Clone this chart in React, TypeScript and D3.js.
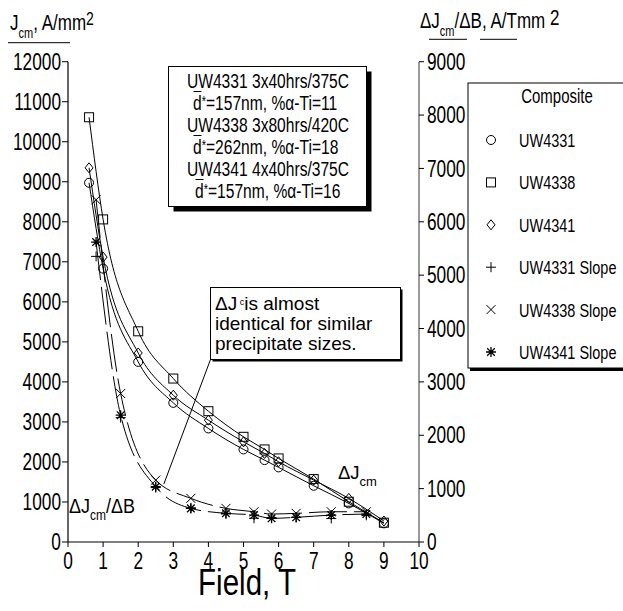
import React from "react";
import * as d3 from "d3";

// ---- data ----
const fieldComposite = [0.6, 1, 2, 3, 4, 5, 5.6, 6, 7, 8, 9];
const uw4331 = [8975, 6830, 4500, 3476, 2837, 2313, 2046, 1864, 1405, 965, 466];
const uw4338 = [10612, 8060, 5264, 4084, 3268, 2628, 2313, 2088, 1572, 1006, 482];
const uw4341 = [9349, 7118, 4723, 3668, 3044, 2503, 2213, 2004, 1547, 1090, 524];

const fieldSlope = [0.8, 1.5, 2.5, 3.5, 4.5, 5.3, 5.8, 6.5, 7.5, 8.5];
const uw4331Slope = [5352, 2330, 1020, 640, 525, 445, 455, 460, 440, 500];
const uw4338Slope = [6413, 2782, 1160, 818, 630, 567, 524, 537, 567, 567];
const uw4341Slope = [5620, 2376, 1035, 630, 537, 505, 443, 462, 505, 524];

const xTicks = [0, 1, 2, 3, 4, 5, 6, 7, 8, 9, 10];
const yLeftTicks = [0, 1000, 2000, 3000, 4000, 5000, 6000, 7000, 8000, 9000, 10000, 11000, 12000];
const yRightTicks = [0, 1000, 2000, 3000, 4000, 5000, 6000, 7000, 8000, 9000];

const legendLabels = ["UW4331", "UW4338", "UW4341", "UW4331 Slope", "UW4338 Slope", "UW4341 Slope"];
const legendMarkers = ["circle", "square", "diamond", "plus", "cross", "star"];

const infoTitles = ["UW4331 3x40hrs/375C", "UW4338 3x80hrs/420C", "UW4341 4x40hrs/375C"];
const infoDetails = ["=157nm, %\u03b1-Ti=11", "=262nm, %\u03b1-Ti=18", "=157nm, %\u03b1-Ti=16"];
const calloutLines = ["is almost", "identical for similar", "precipitate sizes."];
// callout anchor (field, slope value on right axis)
const calloutTarget = [2.73, 1085];

const FONT = "'Liberation Sans', Arial, Helvetica, sans-serif";
const SY = 1.33;

function Marker({ type, cx, cy }: { type: string; cx: number; cy: number }) {
  const s = { fill: "none", stroke: "#000", strokeWidth: 1 } as any;
  if (type === "circle") return <circle cx={cx} cy={cy} r={4.5} {...s} />;
  if (type === "square") return <rect x={cx - 4.5} y={cy - 4.5} width={9} height={9} {...s} />;
  if (type === "diamond")
    return <path d={`M${cx},${cy - 5}L${cx + 4},${cy}L${cx},${cy + 5}L${cx - 4},${cy}Z`} {...s} />;
  if (type === "plus")
    return <path d={`M${cx - 5},${cy}H${cx + 5}M${cx},${cy - 5}V${cy + 5}`} {...s} />;
  if (type === "cross")
    return (
      <path
        d={`M${cx - 4.5},${cy - 4.5}L${cx + 4.5},${cy + 4.5}M${cx + 4.5},${cy - 4.5}L${cx - 4.5},${cy + 4.5}`}
        {...s}
      />
    );
  return (
    <path
      d={`M${cx - 5},${cy}H${cx + 5}M${cx},${cy - 5}V${cy + 5}M${cx - 3.8},${cy - 3.8}L${cx + 3.8},${cy + 3.8}M${cx + 3.8},${cy - 3.8}L${cx - 3.8},${cy + 3.8}`}
      {...s}
      strokeWidth={1.3}
    />
  );
}

function ST({ x, y, size, sy = SY, anchor = "start", children }: any) {
  return (
    <text
      transform={`translate(${x},${y}) scale(1,${sy})`}
      fontSize={size}
      textAnchor={anchor}
      fontFamily={FONT}
      fill="#000"
    >
      {children}
    </text>
  );
}

export default function App() {
  const x = d3.scaleLinear().domain([0, 10]).range([68, 419]);
  const yL = d3.scaleLinear().domain([0, 12000]).range([542, 61.7]);
  const yR = d3.scaleLinear().domain([0, 9000]).range([542, 61.7]);

  const lineL = (vals: number[]) =>
    d3
      .line<number>()
      .x((_, i) => x(fieldComposite[i]))
      .y((d) => yL(d))
      .curve(d3.curveMonotoneX)(vals) as string;
  const lineR = (vals: number[]) =>
    d3
      .line<number>()
      .x((_, i) => x(fieldSlope[i]))
      .y((d) => yR(d))
      .curve(d3.curveMonotoneX)(vals) as string;

  const composite = [
    { vals: uw4331, m: "circle" },
    { vals: uw4338, m: "square" },
    { vals: uw4341, m: "diamond" },
  ];
  const slopes = [
    { vals: uw4331Slope, m: "plus" },
    { vals: uw4338Slope, m: "cross" },
    { vals: uw4341Slope, m: "star" },
  ];

  // layout
  const info = { x: 168.5, y: 66.5, w: 198, h: 140 };
  const legend = { x: 468, y: 83, w: 170, h: 285 };
  const call = { x: 210.5, y: 287.5, w: 190, h: 72 };
  const detailX = [193, 193, 195];

  return (
    <svg width={623} height={611} style={{ display: "block", position: "absolute", left: 0, top: 0 }}>
      <rect width={623} height={611} fill="#fff" />

      {/* composite curves */}
      {composite.map((c, i) => (
        <path key={"cl" + i} d={lineL(c.vals)} fill="none" stroke="#000" strokeWidth={1} />
      ))}
      {/* slope curves */}
      {[uw4338Slope, uw4341Slope].map((v, i) => (
        <path
          key={"sl" + i}
          d={lineR(v)}
          fill="none"
          stroke="#000"
          strokeWidth={1}
          strokeDasharray="38,7"
        />
      ))}

      {/* markers */}
      {composite.map((c, i) =>
        c.vals.map((v, j) => (
          <Marker key={`cm${i}-${j}`} type={c.m} cx={x(fieldComposite[j])} cy={yL(v)} />
        ))
      )}
      {slopes.map((c, i) =>
        c.vals.map((v, j) => <Marker key={`sm${i}-${j}`} type={c.m} cx={x(fieldSlope[j])} cy={yR(v)} />)
      )}

      {/* left axis */}
      <line x1={68} x2={68} y1={yL(0)} y2={yL(12000)} stroke="#000" strokeWidth={1.2} />
      {yLeftTicks.map((t) => (
        <g key={"yl" + t}>
          <line x1={62} x2={68} y1={yL(t)} y2={yL(t)} stroke="#000" />
          <ST x={61} y={yL(t) + 8.2} size={17.3} anchor="end">
            {t}
          </ST>
        </g>
      ))}
      {/* right axis */}
      <line x1={419} x2={419} y1={yR(0)} y2={yR(9000)} stroke="#808080" strokeWidth={1.6} />
      {yRightTicks.map((t) => (
        <g key={"yr" + t}>
          <line x1={419} x2={424} y1={yR(t)} y2={yR(t)} stroke="#000" />
          <ST x={427} y={yR(t) + 8.2} size={17.3}>
            {t}
          </ST>
        </g>
      ))}
      {/* x axis */}
      <line x1={x(0)} x2={x(10)} y1={542} y2={542} stroke="#000" strokeWidth={1.2} />
      {xTicks.map((t) => (
        <g key={"x" + t}>
          <line x1={x(t)} x2={x(t)} y1={542} y2={547} stroke="#000" />
          <ST x={x(t)} y={568.5} size={17.3} anchor="middle">
            {t}
          </ST>
        </g>
      ))}

      {/* axis titles */}
      <ST x={10} y={30} size={17}>
        J<tspan fontSize={11} dy={6}>cm</tspan>
        <tspan dy={-6}>, A/mm</tspan>
        <tspan fontSize={14} dy={-4}>2</tspan>
      </ST>
      <line x1={8} x2={70} y1={42.7} y2={42.7} stroke="#000" strokeWidth={1} />

      <ST x={420} y={28} size={17}>
        {"\u0394J"}
        <tspan fontSize={11} dy={6}>cm</tspan>
        <tspan dy={-6}>{"/\u0394B, A/Tmm "}</tspan>
        <tspan fontSize={17} dy={-2.5}>2</tspan>
      </ST>
      <line x1={429} x2={467} y1={39.3} y2={39.3} stroke="#000" strokeWidth={1} />
      <line x1={480} x2={517} y1={39.3} y2={39.3} stroke="#000" strokeWidth={1} />

      <ST x={247} y={595} size={29.5} sy={1.28} anchor="middle">
        Field, T
      </ST>

      <ST x={69} y={513} size={18} sy={1.15}>
        {"\u0394J"}
        <tspan fontSize={12} dy={6}>cm</tspan>
        <tspan dy={-6}>{"/\u0394B"}</tspan>
      </ST>
      <ST x={338} y={479} size={18.5} sy={1}>
        {"\u0394J"}
        <tspan fontSize={13} dy={7}>cm</tspan>
      </ST>

      {/* info box */}
      <rect x={info.x + 5} y={info.y + 5} width={info.w} height={info.h} fill="#000" />
      <rect x={info.x} y={info.y} width={info.w} height={info.h} fill="#fff" stroke="#000" strokeWidth={1} />
      {infoTitles.map((l, i) => {
        const b1 = 88 + 44 * i;
        const b2 = b1 + 22;
        const dx = detailX[i];
        return (
          <g key={"in" + i}>
            <ST x={268} y={b1} size={15.6} sy={1.34} anchor="middle">
              {l}
            </ST>
            <ST x={dx} y={b2} size={15.6} sy={1.34}>
              d
              <tspan dy={-3} fontSize={11}>*</tspan>
              <tspan dy={3}>{infoDetails[i]}</tspan>
            </ST>
            <line x1={dx + 0.5} x2={dx + 8.5} y1={b2 - 18.5} y2={b2 - 18.5} stroke="#000" strokeWidth={1} />
          </g>
        );
      })}

      {/* legend */}
      <rect x={legend.x + 2} y={legend.y + 3} width={legend.w} height={legend.h} fill="#000" />
      <rect x={legend.x} y={legend.y} width={legend.w} height={legend.h} fill="#fff" stroke="#000" strokeWidth={1} />
      <ST x={557} y={103} size={15} anchor="middle">
        Composite
      </ST>
      {legendLabels.map((l, i) => {
        const cy = 140 + 42.4 * i;
        return (
          <g key={"lg" + i}>
            <Marker type={legendMarkers[i]} cx={491} cy={cy} />
            <ST x={519} y={cy + 6.9} size={14.5}>
              {l}
            </ST>
          </g>
        );
      })}

      {/* callout */}
      <line
        x1={call.x}
        y1={call.y + call.h}
        x2={x(calloutTarget[0])}
        y2={yR(calloutTarget[1])}
        stroke="#000"
        strokeWidth={1}
      />
      <rect x={call.x + 2} y={call.y + 2} width={call.w} height={call.h} fill="#000" />
      <rect x={call.x} y={call.y} width={call.w} height={call.h} fill="#fff" stroke="#000" strokeWidth={1} />
      <text x={215} y={310} fontSize={19} fontFamily={FONT}>
        {"\u0394J"}
        <tspan fontSize={9} dy={-5}>
          {" c"}
        </tspan>
        <tspan dy={5}>{calloutLines[0]}</tspan>
      </text>
      <text x={215} y={330} fontSize={19} fontFamily={FONT}>
        {calloutLines[1]}
      </text>
      <text x={215} y={350} fontSize={19} fontFamily={FONT}>
        {calloutLines[2]}
      </text>
    </svg>
  );
}
